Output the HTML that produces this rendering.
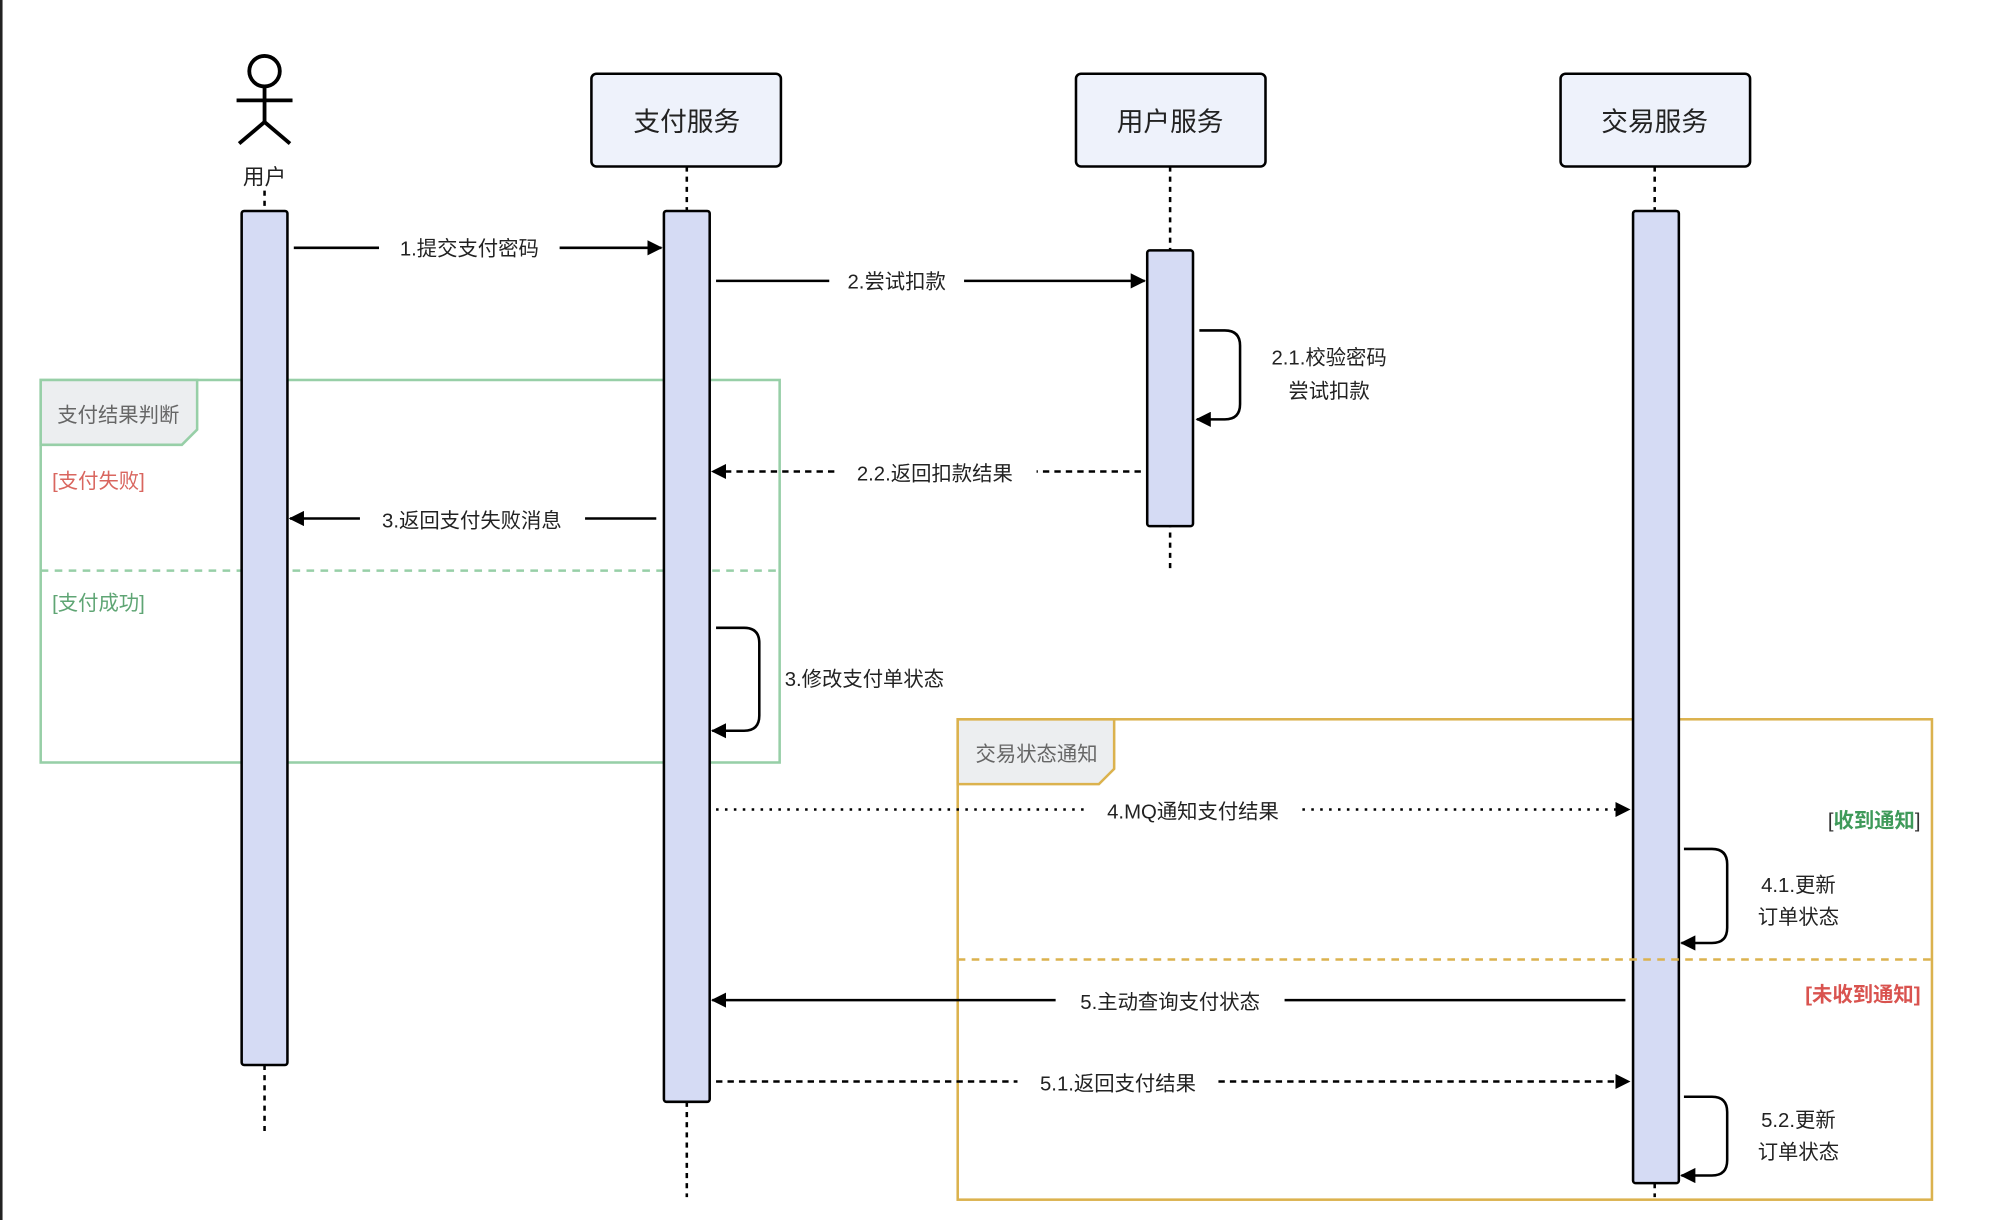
<!DOCTYPE html>
<html><head><meta charset="utf-8"><style>
html,body{margin:0;padding:0;background:#fff;width:1993px;height:1220px;overflow:hidden}
text{font-family:"Liberation Sans","Noto Sans CJK SC",sans-serif}
</style></head><body>
<svg width="1993" height="1220" viewBox="0 0 1567 960" preserveAspectRatio="none" xmlns="http://www.w3.org/2000/svg">
<defs>
<marker id="a" markerWidth="12" markerHeight="12" refX="11" refY="6" orient="auto" markerUnits="userSpaceOnUse"><path d="M0,0 L12,6 L0,12 Z" fill="#000"/></marker>
</defs>
<rect width="1567" height="960" fill="#fff"/>
<line x1="1" y1="0" x2="1" y2="960" stroke="#222" stroke-width="2"/>

<g fill="none" stroke="#97cfa7" stroke-width="2">
<rect x="32" y="299" width="581" height="301"/>
<line x1="32" y1="449" x2="613" y2="449" stroke-dasharray="6,5"/>
</g>
<path d="M32,299 L155,299 L155,338 L143,350 L32,350 Z" fill="#eceef0" stroke="#97cfa7" stroke-width="2"/>
<text x="93" y="332" font-size="16" fill="#666" text-anchor="middle">支付结果判断</text>
<text x="41" y="384" font-size="16" fill="#d9665f">[支付失败]</text>
<text x="41" y="480" font-size="16" fill="#5fa574">[支付成功]</text>

<g fill="none" stroke="#dbb24e" stroke-width="2">
<rect x="753" y="566" width="766" height="378"/>
</g>
<path d="M753,566 L876,566 L876,605 L864,617 L753,617 Z" fill="#eceef0" stroke="#dbb24e" stroke-width="2"/>
<text x="815" y="599" font-size="16" fill="#666" text-anchor="middle">交易状态通知</text>
<text x="1510" y="651" font-size="16" text-anchor="end" fill="#333">[<tspan fill="#3f9a5a" font-weight="bold">收到通知</tspan>]</text>
<text x="1510" y="788" font-size="16" text-anchor="end" fill="#d9534f" font-weight="bold">[未收到通知]</text>

<g stroke="#000" stroke-width="2" stroke-dasharray="4,4">
<line x1="208" y1="150" x2="208" y2="890"/>
<line x1="540" y1="131" x2="540" y2="942"/>
<line x1="920" y1="131" x2="920" y2="450"/>
<line x1="1301" y1="131" x2="1301" y2="942"/>
</g>

<g stroke="#000" stroke-width="3" fill="none">
<circle cx="208" cy="56" r="12"/>
<line x1="208" y1="68" x2="208" y2="96"/>
<line x1="186" y1="79" x2="230" y2="79"/>
<line x1="208" y1="96" x2="188" y2="113"/>
<line x1="208" y1="96" x2="228" y2="113"/>
</g>
<text x="208" y="145" font-size="17" text-anchor="middle" fill="#222">用户</text>

<g fill="#eef2fb" stroke="#000" stroke-width="2">
<rect x="465" y="58" width="149" height="73" rx="4"/>
<rect x="846" y="58" width="149" height="73" rx="4"/>
<rect x="1227" y="58" width="149" height="73" rx="4"/>
</g>
<g font-size="21" text-anchor="middle" fill="#222">
<text x="540" y="103">支付服务</text>
<text x="920" y="103">用户服务</text>
<text x="1301" y="103">交易服务</text>
</g>

<g fill="#d5dbf4" stroke="#000" stroke-width="2">
<rect x="190" y="166" width="36" height="672" rx="2"/>
<rect x="522" y="166" width="36" height="701" rx="2"/>
<rect x="902" y="197" width="36" height="217" rx="2"/>
<rect x="1284" y="166" width="36" height="765" rx="2"/>
</g>
<line x1="753" y1="755" x2="1519" y2="755" stroke="#dbb24e" stroke-width="2" stroke-dasharray="6,5"/>

<g stroke="#000" stroke-width="2" fill="none">
<line x1="231" y1="195" x2="298" y2="195"/><line x1="440" y1="195" x2="520" y2="195" marker-end="url(#a)"/>
<line x1="563" y1="221" x2="652" y2="221"/><line x1="758" y1="221" x2="900" y2="221" marker-end="url(#a)"/>
<path d="M943,260 L963,260 Q975,260 975,272 L975,318 Q975,330 963,330 L941,330" marker-end="url(#a)"/>
<line x1="897" y1="371" x2="815" y2="371" stroke-dasharray="5,4"/><line x1="656" y1="371" x2="560" y2="371" stroke-dasharray="5,4" marker-end="url(#a)"/>
<line x1="516" y1="408" x2="460" y2="408"/><line x1="283" y1="408" x2="228" y2="408" marker-end="url(#a)"/>
<path d="M563,494 L585,494 Q597,494 597,506 L597,563 Q597,575 585,575 L560,575" marker-end="url(#a)"/>
<line x1="563" y1="637" x2="852" y2="637" stroke-dasharray="2,5"/><line x1="1024" y1="637" x2="1281" y2="637" stroke-dasharray="2,5" marker-end="url(#a)"/>
<path d="M1324,668 L1346,668 Q1358,668 1358,680 L1358,730 Q1358,742 1346,742 L1322,742" marker-end="url(#a)"/>
<line x1="1278" y1="787" x2="1010" y2="787"/><line x1="830" y1="787" x2="560" y2="787" marker-end="url(#a)"/>
<line x1="563" y1="851" x2="800" y2="851" stroke-dasharray="5,4"/><line x1="958" y1="851" x2="1281" y2="851" stroke-dasharray="5,4" marker-end="url(#a)"/>
<path d="M1324,863 L1346,863 Q1358,863 1358,875 L1358,913 Q1358,925 1346,925 L1322,925" marker-end="url(#a)"/>
</g>
<g font-size="16" fill="#222" text-anchor="middle">
<text x="369" y="201">1.提交支付密码</text>
<text x="705" y="227">2.尝试扣款</text>
<text x="1045" y="287">2.1.校验密码</text>
<text x="1045" y="313">尝试扣款</text>
<text x="735" y="378">2.2.返回扣款结果</text>
<text x="371" y="415">3.返回支付失败消息</text>
<text x="617" y="540" text-anchor="start">3.修改支付单状态</text>
<text x="938" y="644">4.MQ通知支付结果</text>
<text x="1414" y="702">4.1.更新</text>
<text x="1414" y="727">订单状态</text>
<text x="920" y="794">5.主动查询支付状态</text>
<text x="879" y="858">5.1.返回支付结果</text>
<text x="1414" y="887">5.2.更新</text>
<text x="1414" y="912">订单状态</text>
</g>
</svg>
</body></html>
